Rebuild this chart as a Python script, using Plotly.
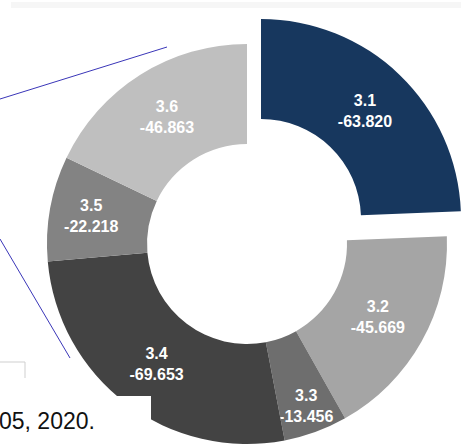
import plotly.graph_objects as go

# ---- data ----
categories = ["3.1", "3.2", "3.3", "3.4", "3.5", "3.6"]
values = [-63.820, -45.669, -13.456, -69.653, -22.218, -46.863]
slice_colors = ["#17375E", "#A5A5A5", "#6E6E6E", "#434343", "#838383", "#BFBFBF"]
pulled_category = "3.1"
footer_text = "05, 2020."

# ---- layout constants (pixels) ----
W, H = 461, 445
R = 200           # pie outer radius in px
CX, CY = 247, 244  # centre of the donut
PX, PY = 261, 219  # centre of the pulled-out slice


def px_domain(cx, cy, r):
    return dict(x=[(cx - r) / W, min(1.0, (cx + r) / W)],
                y=[max(0.0, 1 - (cy + r) / H), min(1.0, 1 - (cy - r) / H)])


sizes = [abs(v) for v in values]
texts = [f"{c}<br>{v:.3f}" for c, v in zip(categories, values)]
clear = "rgba(0,0,0,0)"
is_pulled = [c == pulled_category for c in categories]

common = dict(
    labels=categories, values=sizes, sort=False, direction="clockwise",
    rotation=0, hole=0.5, textinfo="text", textposition="inside",
    insidetextorientation="horizontal", hoverinfo="skip", showlegend=False,
    textfont=dict(family="Liberation Sans", size=16, color="white", weight="bold"),
)

fig = go.Figure()
fig.add_trace(go.Pie(
    **common,
    text=["" if p else t for t, p in zip(texts, is_pulled)],
    marker=dict(colors=[clear if p else col for col, p in zip(slice_colors, is_pulled)],
                line=dict(width=0)),
    domain=px_domain(CX, CY, R),
))
fig.add_trace(go.Pie(
    **common,
    text=[t if p else "" for t, p in zip(texts, is_pulled)],
    marker=dict(colors=[col if p else clear for col, p in zip(slice_colors, is_pulled)],
                line=dict(width=0)),
    domain=px_domain(PX, PY, R),
))


def px(x):
    return x / W


def py(y):
    return 1 - y / H


shapes = [
    # faint bar at top
    dict(type="rect", xref="paper", yref="paper", x0=px(11), x1=px(461), y0=py(8), y1=py(2),
         fillcolor="#F6F6F6", line=dict(width=0), layer="below"),
    # blue leader lines
    dict(type="line", xref="paper", yref="paper", x0=px(0), y0=py(99), x1=px(167), y1=py(47),
         line=dict(color="#3A36B8", width=1), layer="above"),
    dict(type="line", xref="paper", yref="paper", x0=px(0), y0=py(239), x1=px(70), y1=py(358),
         line=dict(color="#3A36B8", width=1), layer="above"),
    # small grey box corner
    dict(type="line", xref="paper", yref="paper", x0=px(0), y0=py(362), x1=px(25), y1=py(362),
         line=dict(color="#CFCFCF", width=1), layer="above"),
    dict(type="line", xref="paper", yref="paper", x0=px(25), y0=py(362), x1=px(25), y1=py(378),
         line=dict(color="#CFCFCF", width=1), layer="above"),
    # white box covering bottom-left
    dict(type="rect", xref="paper", yref="paper", x0=px(0), x1=px(151), y0=py(445), y1=py(396),
         fillcolor="white", line=dict(width=0), layer="above"),
]

fig.update_layout(
    width=W, height=H, margin=dict(l=0, r=0, t=0, b=0),
    paper_bgcolor="white", plot_bgcolor="white",
    uniformtext=dict(minsize=16, mode="show"),
    shapes=shapes,
    annotations=[dict(text=footer_text, xref="paper", yref="paper", x=px(-3), y=py(421),
                      xanchor="left", yanchor="middle", showarrow=False,
                      font=dict(family="Liberation Sans", size=23, color="#111111"))],
)

fig.write_html(
    "out.html",
    config={"displayModeBar": False, "staticPlot": True},
    post_script="document.body.style.margin='0';document.body.style.overflow='hidden';",
)
